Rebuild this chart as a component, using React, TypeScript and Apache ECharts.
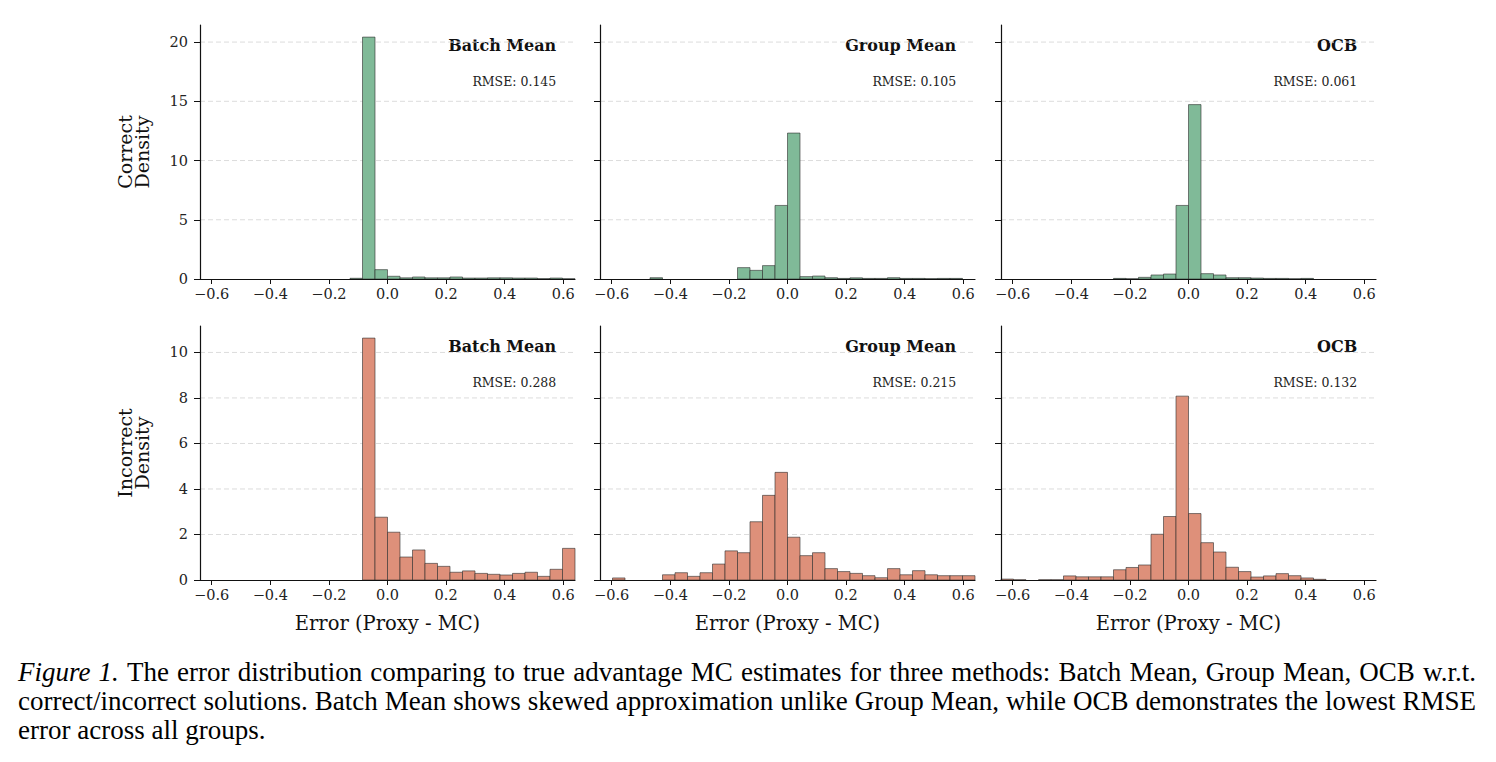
import React, { useEffect, useRef } from "react";
import * as echarts from "echarts";

// Histogram binning: 30 equal-width bins over the error range
const BIN_MIN = -0.64;
const BIN_MAX = 0.64;
const BIN_COUNT = 30;

const methods = ["Batch Mean", "Group Mean", "OCB"];
const rowNames = ["Correct\nDensity", "Incorrect\nDensity"];

// Density per bin (30 bins, left to right)
const batchMeanCorrect = [
  0, 0, 0, 0, 0, 0, 0, 0, 0, 0, 0, 0, 0.06, 20.42, 0.79, 0.23, 0.1, 0.17, 0.1, 0.1,
  0.17, 0.08, 0.08, 0.1, 0.1, 0.08, 0.08, 0.03, 0.08, 0.02,
];
const groupMeanCorrect = [
  0, 0, 0, 0, 0.11, 0, 0, 0, 0, 0, 0, 0.96, 0.73, 1.13, 6.21, 12.32, 0.2, 0.25, 0.11, 0.05,
  0.1, 0.05, 0.05, 0.11, 0.05, 0.05, 0.03, 0.05, 0.05, 0,
];
const ocbCorrect = [
  0, 0, 0, 0, 0, 0, 0, 0, 0, 0.05, 0.02, 0.14, 0.34, 0.42, 6.21, 14.72, 0.45, 0.34, 0.11, 0.11,
  0.08, 0.05, 0.05, 0.02, 0.05, 0, 0, 0, 0, 0,
];
const batchMeanIncorrect = [
  0, 0, 0, 0, 0, 0, 0, 0, 0, 0, 0, 0, 0, 10.63, 2.76, 2.1, 1.01, 1.32, 0.73, 0.6,
  0.34, 0.4, 0.29, 0.25, 0.22, 0.29, 0.34, 0.16, 0.47, 1.39,
];
const groupMeanIncorrect = [
  0, 0.09, 0, 0, 0, 0.23, 0.32, 0.16, 0.32, 0.7, 1.28, 1.2, 2.56, 3.72, 4.73, 1.88, 1.07, 1.2, 0.5, 0.37,
  0.29, 0.19, 0.1, 0.5, 0.23, 0.41, 0.23, 0.19, 0.19, 0.19,
];
const ocbIncorrect = [
  0.04, 0.01, 0, 0.01, 0.01, 0.18, 0.14, 0.14, 0.14, 0.45, 0.55, 0.66, 2.01, 2.79, 8.08, 2.92, 1.64, 1.23, 0.56, 0.37,
  0.13, 0.18, 0.28, 0.19, 0.09, 0.03, 0, 0, 0, 0,
];

const rmseCorrect = ["0.145", "0.105", "0.061"];
const rmseIncorrect = ["0.288", "0.215", "0.132"];

const xTicks = [-0.6, -0.4, -0.2, 0, 0.2, 0.4, 0.6];
const yTicksCorrect = [0, 5, 10, 15, 20];
const yTicksIncorrect = [0, 2, 4, 6, 8, 10];

const xAxisTitle = "Error (Proxy - MC)";
const captionLead = "Figure 1.";
const captionLines = [
  "The error distribution comparing to true advantage MC estimates for three methods: Batch Mean, Group Mean, OCB w.r.t.",
  "correct/incorrect solutions. Batch Mean shows skewed approximation unlike Group Mean, while OCB demonstrates the lowest RMSE",
  "error across all groups.",
];

const SERIF = "DejaVu Serif";
const CAPTION_FONT = "Liberation Serif";
const CAPTION_SIZE = 27;
const GREEN = "#80ba98";
const SALMON = "#de907a";
const EDGE = "rgba(45,45,45,0.75)";

const rows = [
  { values: [batchMeanCorrect, groupMeanCorrect, ocbCorrect], rmse: rmseCorrect, ticks: yTicksCorrect, color: GREEN },
  { values: [batchMeanIncorrect, groupMeanIncorrect, ocbIncorrect], rmse: rmseIncorrect, ticks: yTicksIncorrect, color: SALMON },
];

const colLeft = [200, 600, 1001];
const rowTop = [25, 326];
const PANEL_W = 375;
const PANEL_H = 254;
const CAPTION_LEFT = 18;
const CAPTION_RIGHT = 1476;

const fmtTick = (v: number) => {
  const s = Math.abs(v).toFixed(1);
  return v < -1e-9 ? "\u2212" + s : s;
};

// Lay out a caption line word by word, optionally justified to the full width
function captionWords(words: { text: string; italic: boolean }[], y: number, justify: boolean) {
  const ctx = document.createElement("canvas").getContext("2d")!;
  const widths = words.map((w) => {
    ctx.font = `${w.italic ? "italic " : ""}${CAPTION_SIZE}px "${CAPTION_FONT}"`;
    return ctx.measureText(w.text).width;
  });
  ctx.font = `${CAPTION_SIZE}px "${CAPTION_FONT}"`;
  const space = ctx.measureText(" ").width;
  const total = widths.reduce((a, b) => a + b, 0);
  const fill = (CAPTION_RIGHT - CAPTION_LEFT - total) / Math.max(1, words.length - 1);
  const gap = justify && words.length > 1 ? Math.max(space, fill) : space;
  let x = CAPTION_LEFT;
  return words.map((w, i) => {
    const el = {
      type: "text",
      x,
      y,
      style: {
        text: w.text,
        fontFamily: CAPTION_FONT,
        fontStyle: w.italic ? "italic" : "normal",
        fontSize: CAPTION_SIZE,
        fill: "#000",
        align: "left",
        verticalAlign: "middle",
      },
    };
    x += widths[i] + gap;
    return el;
  });
}

function buildOption() {
  const binW = (BIN_MAX - BIN_MIN) / BIN_COUNT;
  const grid: any[] = [];
  const xAxis: any[] = [];
  const yAxis: any[] = [];
  const series: any[] = [];
  const graphic: any[] = [];

  rows.forEach((row, r) => {
    const rowMax = Math.max(...row.values.flat()) * 1.05;
    row.values.forEach((vals, c) => {
      const idx = r * 3 + c;
      grid.push({ left: colLeft[c], top: rowTop[r], width: PANEL_W, height: PANEL_H });
      xAxis.push({
        type: "value",
        gridIndex: idx,
        min: BIN_MIN,
        max: BIN_MAX,
        z: 10,
        axisLine: { show: true, onZero: false, lineStyle: { color: "#111", width: 1.2 } },
        axisTick: { show: true, customValues: xTicks, length: 5, lineStyle: { color: "#111", width: 1 } },
        axisLabel: {
          customValues: xTicks,
          formatter: (v: number) => fmtTick(v),
          fontFamily: SERIF,
          fontSize: 14.5,
          color: "#222",
          margin: 7,
        },
        splitLine: { show: false },
      });
      yAxis.push({
        type: "value",
        gridIndex: idx,
        min: 0,
        max: rowMax,
        z: 10,
        axisLine: { show: true, onZero: false, lineStyle: { color: "#111", width: 1.2 } },
        axisTick: { show: true, customValues: row.ticks, length: 6, lineStyle: { color: "#111", width: 1 } },
        axisLabel: {
          show: c === 0,
          customValues: row.ticks,
          fontFamily: SERIF,
          fontSize: 14.5,
          color: "#222",
          margin: 12,
        },
        splitLine: { show: false },
      });
      // dashed horizontal grid lines at the y ticks
      series.push({
        type: "custom",
        xAxisIndex: idx,
        yAxisIndex: idx,
        z: 1,
        silent: true,
        data: row.ticks.filter((t) => t > 0).map((t) => [0, t]),
        encode: { x: 0, y: 1 },
        renderItem: (_p: any, api: any) => {
          const t = api.value(1);
          const a = api.coord([BIN_MIN, t]);
          const b = api.coord([BIN_MAX, t]);
          return {
            type: "line",
            shape: { x1: a[0], y1: a[1], x2: b[0], y2: b[1] },
            style: { stroke: "#dcdcdc", lineWidth: 1, lineDash: [5, 3] },
          };
        },
      });
      // histogram bars
      series.push({
        type: "custom",
        xAxisIndex: idx,
        yAxisIndex: idx,
        z: 2,
        data: vals.map((v, i) => [BIN_MIN + i * binW, BIN_MIN + (i + 1) * binW, v]),
        encode: { x: [0, 1], y: 2 },
        renderItem: (_p: any, api: any) => {
          const v = api.value(2);
          if (!v) return null;
          const a = api.coord([api.value(0), v]);
          const b = api.coord([api.value(1), 0]);
          return {
            type: "rect",
            shape: { x: a[0], y: a[1], width: b[0] - a[0], height: b[1] - a[1] },
            style: { fill: row.color, stroke: EDGE, lineWidth: 0.8 },
          };
        },
      });
      // panel title and RMSE
      graphic.push({
        type: "text",
        x: colLeft[c] + PANEL_W * 0.95,
        y: rowTop[r] + 20.5,
        style: {
          text: methods[c],
          fontFamily: SERIF,
          fontWeight: "bold",
          fontSize: 16,
          fill: "#111",
          align: "right",
          verticalAlign: "middle",
        },
      });
      graphic.push({
        type: "text",
        x: colLeft[c] + PANEL_W * 0.95,
        y: rowTop[r] + 56,
        style: {
          text: "RMSE: " + row.rmse[c],
          fontFamily: SERIF,
          fontSize: 12.5,
          fill: "#222",
          align: "right",
          verticalAlign: "middle",
        },
      });
      if (r === 1) {
        graphic.push({
          type: "text",
          x: colLeft[c] + PANEL_W / 2,
          y: rowTop[r] + PANEL_H + 43,
          style: {
            text: xAxisTitle,
            fontFamily: SERIF,
            fontSize: 19.5,
            fill: "#111",
            align: "center",
            verticalAlign: "middle",
          },
        });
      }
    });
    graphic.push({
      type: "text",
      x: 133,
      y: rowTop[r] + PANEL_H / 2,
      rotation: Math.PI / 2,
      style: {
        text: rowNames[r],
        fontFamily: SERIF,
        fontSize: 19,
        lineHeight: 17,
        fill: "#111",
        align: "center",
        verticalAlign: "middle",
      },
    });
  });

  // figure caption: first two lines justified, the last one ragged
  captionLines.forEach((line, i) => {
    const words = line.split(" ").map((t) => ({ text: t, italic: false }));
    if (i === 0) {
      words.unshift(...captionLead.split(" ").map((t) => ({ text: t, italic: true })));
    }
    graphic.push(...captionWords(words, 672 + i * 29, i < captionLines.length - 1));
  });

  return { animation: false, backgroundColor: "#ffffff", grid, xAxis, yAxis, series, graphic };
}

export default function App() {
  const ref = useRef<HTMLDivElement>(null);
  useEffect(() => {
    if (!ref.current) return;
    const chart = echarts.init(ref.current, undefined, { renderer: "svg" });
    chart.setOption(buildOption() as any);
    return () => chart.dispose();
  }, []);
  return (
    <div
      ref={ref}
      style={{ position: "absolute", left: 0, top: 0, width: 1496, height: 762, background: "#fff" }}
    />
  );
}
